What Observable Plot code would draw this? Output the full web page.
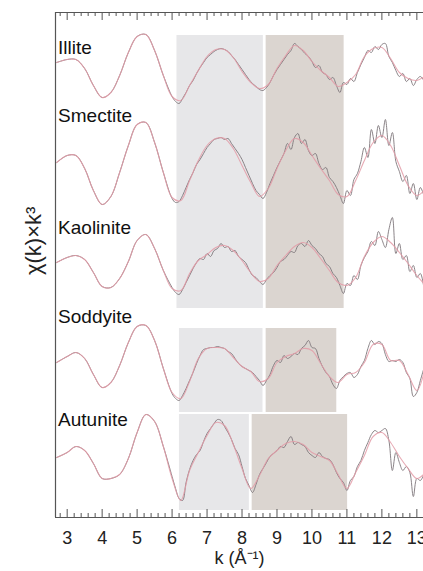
<!DOCTYPE html>
<html><head><meta charset="utf-8">
<script src="https://cdn.jsdelivr.net/npm/d3@7"></script>
<script src="https://cdn.jsdelivr.net/npm/@observablehq/plot@0.6"></script>
<style>body{margin:0;background:#fff;} #chart svg{display:block;}</style>
</head><body><div id="chart"></div>
<script>
// ---- data (arbitrary χ(k)·k³ units) ----
const samples = ["Illite", "Smectite", "Kaolinite", "Soddyite", "Autunite"];
const offsets = [447, 352, 252, 149, 57];

// fit curves (pink), sampled on fitK
const fitK = [2.7, 3, 3.25, 3.5, 3.75, 4, 4.25, 4.5, 4.75, 5, 5.25, 5.5, 5.75, 6, 6.25, 6.5, 6.75, 7, 7.25, 7.5, 7.75, 8, 8.25, 8.5, 8.75, 9, 9.25, 9.5, 9.75, 10, 10.25, 10.5, 10.75, 11, 11.25, 11.5, 11.75, 12, 12.25, 12.5, 12.75, 13, 13.25];
const fitIllite    = [8,11,11,2,-15,-27,-22,-5,18,34,36,20,-5,-26,-30,-15,0,14,21,21,13,-1,-12,-18,-14,2,15,25,20,9,0,-7,-16,-12,-4,14,22,23,12,-2,-8,-10,-5];
const fitSmectite  = [3,10,10,-3,-25,-39,-31,-7,20,41,43,23,-7,-32,-35,-15,5,20,27,27,17,0,-17,-31,-23,-3,15,27,23,10,-3,-15,-29,-31,-15,5,23,30,20,0,-20,-30,-23];
const fitKaolinite = [3,8,10,6,-7,-21,-22,-13,4,25,31,17,-5,-23,-25,-8,5,11,18,20,15,5,-7,-16,-13,0,10,19,23,18,7,-5,-17,-20,-12,9,23,29,23,13,2,-10,-20];
const fitSoddyite  = [6,12,16,10,-6,-19,-14,3,26,42,43,28,0,-24,-30,-13,10,20,21,20,11,2,-3,-13,-10,6,12,15,20,18,5,-8,-14,-6,-4,6,24,24,8,8,-6,-22,3];
const fitAutunite  = [3,8,14,10,-3,-18,-18,-14,2,28,46,39,14,-18,-40,-10,8,25,38,35,16,-8,-28,-15,2,10,17,19,16,8,4,0,-14,-28,-12,5,24,28,18,4,-8,-18,-12];

// measured data (grey); below k=6 it lies on the fit, above it is read at 0.1 steps
const dataK = d3.range(60, 133).map(i => i / 10);
const dataIllite    = [-26,-31,-33,-28,-22,-15,-10,-3,3,8, 13,16,19,21,22,21,19,15,11,6, 1,-4,-9,-13,-16,-19,-20,-17,-12,-5, 1,6,11,16,20,27,24,21,17,14, 9,3,5,-2,-4,-9,-7,-15,-22,-12, -14,-8,-11,-2,6,13,20,18,24,21, 26,27,14,8,0,-6,-3,-11,-8,-15, -9,-6,-10];
const dataSmectite  = [-33,-37,-36,-30,-22,-14,-7,1,6,12, 18,22,26,27,28,26,27,22,17,12, 6,-2,-10,-18,-25,-29,-33,-27,-18,-10, -2,5,12,22,16,28,32,22,26,15, 10,12,2,-4,-2,-12,-16,-22,-30,-38, -25,-30,-14,-8,4,18,8,36,22,40, 28,46,20,33,4,-6,-16,-10,-28,-18, -34,-22,-30];
const dataKaolinite = [-22,-27,-29,-24,-17,-10,-3,3,7,6, 12,9,15,17,22,18,19,14,15,9, 6,3,-4,-10,-12,-16,-19,-14,-10,-7, -2,4,6,10,14,13,20,22,19,25, 20,17,12,9,2,-1,-8,-12,-20,-28, -18,-20,-10,-14,0,8,14,24,20,34, 26,18,36,48,12,22,6,10,-6,0, -12,-8,-22];
const dataSoddyite  = [-25,-30,-32,-27,-20,-12,-4,5,13,19, 20,21,21,22,21,20,17,15,10,5, 2,0,-2,-4,-8,-12,-17,-12,-6,3, 8,6,13,10,12,15,14,20,23,28, 21,20,10,2,-4,-8,-16,-20,-12,-8, -5,-4,-9,-6,2,8,20,28,24,27, 25,14,7,8,7,9,6,-4,-10,-28, -24,-12,0];
const dataAutunite  = [-16,-28,-38,-40,-22,-9,0,6,10,19, 27,32,37,41,40,34,28,21,12,6, -6,-18,-25,-32,-24,-14,-8,-2,4,7, 10,14,13,19,24,16,18,16,14,8, 5,3,8,4,2,1,-4,-12,-18,-22, -30,-20,-16,-6,0,10,18,26,30,28, 30,32,20,-10,8,-2,-10,-6,-12,-36, -18,-20,-14];

// shaded k-windows: [first sample, last sample]
const bandFirst  = ["Illite", "Soddyite", "Autunite"];
const bandLast   = ["Kaolinite", "Soddyite", "Autunite"];
const lightStart = [6.14, 6.21, 6.21];
const lightEnd   = [8.61, 8.60, 8.21];
const darkStart  = [8.69, 8.69, 8.29];
const darkEnd    = [10.92, 10.71, 11.02];

const xTickLabels = [3, 4, 5, 6, 7, 8, 9, 10, 11, 12, 13];

// ---- build tables ----
const fits = [fitIllite, fitSmectite, fitKaolinite, fitSoddyite, fitAutunite];
const datas = [dataIllite, dataSmectite, dataKaolinite, dataSoddyite, dataAutunite];
const fitRows = [], dataRows = [];
samples.forEach((s, i) => {
  fitK.forEach((k, j) => {
    fitRows.push({sample: s, k, v: offsets[i] + fits[i][j]});
    if (k < 6) dataRows.push({sample: s, k, v: offsets[i] + fits[i][j]});
  });
  dataK.forEach((k, j) => dataRows.push({sample: s, k, v: offsets[i] + datas[i][j]}));
});
const idx = s => samples.indexOf(s);
const bandTopPad = [35, 40, 46], bandBottomPad = [43, 44, 50];
const rects = [];
bandFirst.forEach((f, b) => {
  const y2 = offsets[idx(f)] + bandTopPad[b], y1 = offsets[idx(bandLast[b])] - bandBottomPad[b];
  rects.push({x1: lightStart[b], x2: lightEnd[b], y1, y2, kind: "light"});
  rects.push({x1: darkStart[b], x2: darkEnd[b], y1, y2, kind: "dark"});
});
const minor = d3.range(14, 67).map(i => i / 5).filter(v => Math.abs(v - Math.round(v)) > 1e-6);
const labelLift = [22.5, 49.5, 37.5, 52, 41];
const Y0 = 0, Y1 = 505, K0 = 2.666;

const chart = Plot.plot({
  width: 423, height: 571,
  marginTop: 12, marginBottom: 54, marginLeft: 55, marginRight: 0,
  x: {domain: [K0, 13.19], axis: null},
  y: {domain: [Y0, Y1], axis: null},
  style: {fontFamily: "'Liberation Sans', Arial, sans-serif", background: "#fff", overflow: "hidden"},
  marks: [
    Plot.rect(rects, {x1: "x1", x2: "x2", y1: "y1", y2: "y2",
      fill: d => d.kind === "light" ? "#e7e7e9" : "#dbd5d0"}),
    Plot.line(dataRows, {x: "k", y: "v", z: "sample", stroke: "#7e767b", strokeWidth: 0.9, curve: "catmull-rom"}),
    Plot.line(fitRows, {x: "k", y: "v", z: "sample", stroke: "#e39ba7", strokeWidth: 1.1, strokeOpacity: 0.85, curve: "catmull-rom"}),
    // frame
    Plot.ruleY([Y0, Y1], {stroke: "#555", strokeWidth: 1.2}),
    Plot.ruleX([K0], {y1: Y0, y2: Y1, stroke: "#555", strokeWidth: 1.2}),
    // inward ticks
    Plot.ruleX(xTickLabels, {y1: Y0, y2: Y0 + 8, stroke: "#555"}),
    Plot.ruleX(xTickLabels, {y1: Y1 - 8, y2: Y1, stroke: "#555"}),
    Plot.ruleX(minor, {y1: Y0, y2: Y0 + 4, stroke: "#555"}),
    Plot.ruleX(minor, {y1: Y1 - 4, y2: Y1, stroke: "#555"}),
    Plot.text(xTickLabels, {x: d => d, y: Y0, dy: 21, text: d => String(d), fontSize: 18, fill: "#222"}),
    // sample labels
    Plot.text(samples, {x: 2.74, y: (d, i) => offsets[i] + labelLift[i], text: d => d,
      textAnchor: "start", fontSize: 19, fill: "#111"}),
    // axis titles
    Plot.text(["k (Å⁻¹)"], {frameAnchor: "bottom", lineAnchor: "middle", dy: 41, fontSize: 18, fill: "#222"}),
    Plot.text(["χ(k)×k³"], {frameAnchor: "left", lineAnchor: "middle", rotate: -90, dx: -22, dy: 10, fontSize: 22, fill: "#222"})
  ]
});
document.getElementById("chart").appendChild(chart);
</script>
</body></html>
